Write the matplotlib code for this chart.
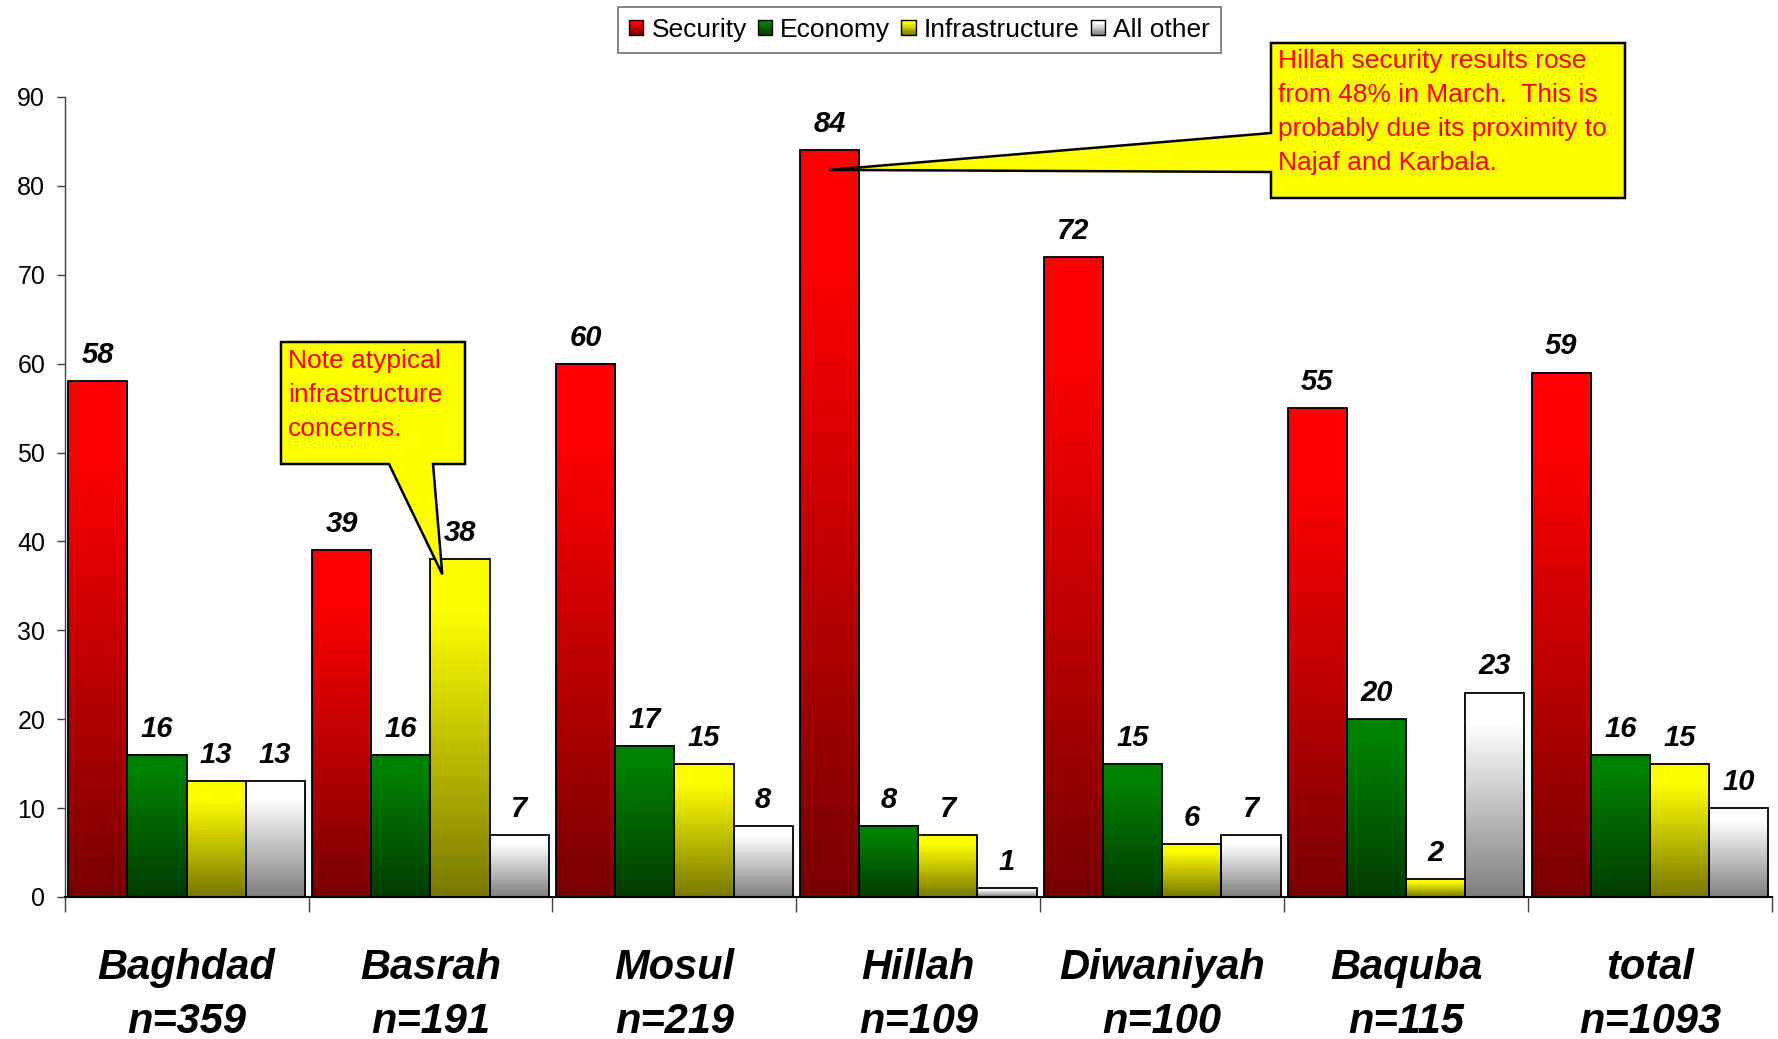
import numpy as np
import matplotlib
matplotlib.use('Agg')
import matplotlib.pyplot as plt
from matplotlib.patches import Polygon, Rectangle
from matplotlib.transforms import IdentityTransform
from matplotlib.legend_handler import HandlerBase
from matplotlib.colors import to_rgb

plt.rcParams['font.family'] = ['Liberation Sans', 'DejaVu Sans']

# ---------------- data ----------------
cities = ['Baghdad', 'Basrah', 'Mosul', 'Hillah', 'Diwaniyah', 'Baquba', 'total']
sample_sizes = ['n=359', 'n=191', 'n=219', 'n=109', 'n=100', 'n=115', 'n=1093']
series_names = ['Security', 'Economy', 'Infrastructure', 'All other']
security = [58, 39, 60, 84, 72, 55, 59]
economy = [16, 16, 17, 8, 15, 20, 16]
infrastructure = [13, 38, 15, 7, 6, 2, 15]
all_other = [13, 7, 8, 1, 7, 23, 10]
y_ticks = [0, 10, 20, 30, 40, 50, 60, 70, 80, 90]

basrah_note = ['Note atypical', 'infrastructure', 'concerns.']
hillah_note = ['Hillah security results rose', 'from 48% in March.  This is',
               'probably due its proximity to', 'Najaf and Karbala.']

series = [security, economy, infrastructure, all_other]
top_colors = ['#ff0000', '#008000', '#ffff00', '#ffffff']
bottom_colors = ['#780000', '#003c00', '#787800', '#7f7f7f']

W, H = 1778, 1039
fig = plt.figure(figsize=(W / 100, H / 100), dpi=100)
ax = fig.add_axes([64.6 / W, 1 - 897 / H, (1772 - 64.6) / W, 800 / H])


def gradient_colors(top, bottom, n=256):
    t = np.linspace(0, 1, n)
    f = np.clip((t - 0.15) / 0.85, 0, 1)
    c1 = np.array(to_rgb(top))
    c2 = np.array(to_rgb(bottom))
    return c1[None, :] * (1 - f[:, None]) + c2[None, :] * f[:, None]


bw = 0.2425
x = np.arange(len(cities))
bar_containers = []
for i, vals in enumerate(series):
    offs = (i - 1.5) * bw
    bars = ax.bar(x + offs, vals, width=bw, facecolor='none', edgecolor='black',
                  linewidth=1.3, zorder=3)
    bar_containers.append(bars)
    grad = gradient_colors(top_colors[i], bottom_colors[i])[:, None, :]
    for b, v in zip(bars, vals):
        x0 = b.get_x()
        ax.imshow(grad, extent=[x0, x0 + b.get_width(), 0, b.get_height()],
                  aspect='auto', origin='upper', interpolation='bilinear', zorder=2)
        ax.annotate(str(v), xy=(b.get_x() + b.get_width() / 2, v), xytext=(0, 13),
                    textcoords='offset points', ha='center', va='baseline',
                    fontsize=21, fontweight='bold', fontstyle='italic', zorder=5)

ax.set_xlim(-0.5, len(cities) - 0.5)
ax.set_ylim(0, 90)
ax.set_yticks(y_ticks)
ax.tick_params(axis='y', direction='out', length=6, width=1, labelsize=18, pad=8,
               color='#404040')
ax.set_xticks(x)
ax.set_xticklabels([])
ax.tick_params(axis='x', which='major', length=0)
ax.set_xticks(np.arange(len(cities) + 1) - 0.5, minor=True)
ax.tick_params(axis='x', which='minor', direction='out', length=11, width=1, color='#404040')
for s in ['top', 'right']:
    ax.spines[s].set_visible(False)
ax.spines['left'].set_color('#404040')
ax.spines['left'].set_linewidth(1)
ax.spines['bottom'].set_color('black')
ax.spines['bottom'].set_linewidth(1.5)
ax.spines['bottom'].set_zorder(4)

for i, (c, n) in enumerate(zip(cities, sample_sizes)):
    ax.annotate(c, xy=(i, 0), xycoords=('data', 'axes fraction'), xytext=(0, -59),
                textcoords='offset points', ha='center', va='baseline', fontsize=30,
                fontweight='bold', fontstyle='italic', annotation_clip=False)
    ax.annotate(n, xy=(i, 0), xycoords=('data', 'axes fraction'), xytext=(0, -98),
                textcoords='offset points', ha='center', va='baseline', fontsize=30,
                fontweight='bold', fontstyle='italic', annotation_clip=False)


# legend with gradient squares
class GradHandler(HandlerBase):
    def __init__(self, top, bottom):
        super().__init__()
        self.top = top
        self.bottom = bottom

    def create_artists(self, legend, orig_handle, xdescent, ydescent, width, height,
                       fontsize, trans):
        s = width
        x0 = -xdescent
        y0 = -ydescent + (height - s) / 2
        cols = gradient_colors(self.top, self.bottom, n=12)
        arts = []
        n = len(cols)
        for k, col in enumerate(cols):
            r = Rectangle((x0, y0 + s - (k + 1) * s / n), s, s / n, facecolor=col,
                          edgecolor='none', transform=trans)
            arts.append(r)
        arts.append(Rectangle((x0, y0), s, s, facecolor='none', edgecolor='black',
                              linewidth=1, transform=trans))
        return arts


handles = [bc.patches[0] for bc in bar_containers]
handler_map = {h: GradHandler(t, b) for h, t, b in zip(handles, top_colors, bottom_colors)}
leg = fig.legend(handles, series_names, handler_map=handler_map, loc='upper center',
                 bbox_to_anchor=(919.5 / W, 1 - 7 / H), ncol=4, fontsize=19,
                 frameon=True, fancybox=False, edgecolor='#707070', framealpha=1,
                 borderpad=0.42, handletextpad=0.3, columnspacing=0.42,
                 handlelength=0.55, handleheight=0.55, borderaxespad=0)
leg.get_frame().set_linewidth(1.2)


def px(xp, yp):
    return (xp, H - yp)


# Basrah callout
bb = bar_containers[2].patches[1]
tip1 = ax.transData.transform((bb.get_x() + bb.get_width() * 0.2, bb.get_height() - 1.7))
poly1 = Polygon([px(281, 342), px(465, 342), px(465, 464), px(433, 464), tuple(tip1),
                 px(389, 464), px(281, 464)], closed=True, facecolor='#ffff00',
                edgecolor='black', linewidth=1.8, transform=IdentityTransform(), zorder=6)
fig.add_artist(poly1)
for k, line in enumerate(basrah_note):
    fig.text(288, H - (368 + 34 * k), line, transform=IdentityTransform(), color='#ff0000',
             fontsize=19, ha='left', va='baseline', zorder=7)

# Hillah callout
hb = bar_containers[0].patches[3]
tip2 = ax.transData.transform((hb.get_x() + hb.get_width() / 2, hb.get_height() - 2.2))
poly2 = Polygon([px(1271, 43), px(1625, 43), px(1625, 198), px(1271, 198), px(1271, 172),
                 tuple(tip2), px(1271, 133)], closed=True, facecolor='#ffff00',
                edgecolor='black', linewidth=1.8, transform=IdentityTransform(), zorder=6)
fig.add_artist(poly2)
for k, line in enumerate(hillah_note):
    fig.text(1278, H - (68 + 34 * k), line, transform=IdentityTransform(), color='#ff0000',
             fontsize=19, ha='left', va='baseline', zorder=7)

fig.savefig('out.png', dpi=100, facecolor='white')
